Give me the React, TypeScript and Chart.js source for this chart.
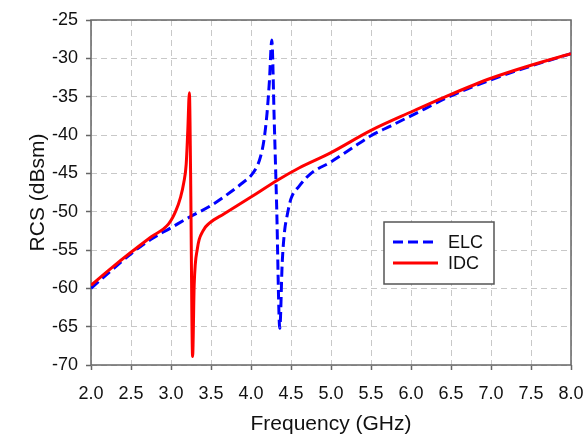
import { useEffect, useRef } from "react";
import { Chart, registerables } from "chart.js";

Chart.register(...registerables);

// ELC (blue dashed)
const elcFreq = [
  2.0, 2.25, 2.5, 2.75, 3.0, 3.25, 3.5, 3.75, 3.9, 4.0, 4.08, 4.12, 4.16, 4.2, 4.23, 4.26,
  4.29, 4.32, 4.36, 4.39, 4.42, 4.45, 4.5, 4.6, 4.74, 5.0, 5.25, 5.5, 5.75, 6.0, 6.5, 7.0, 7.5, 8.0,
];
const elcRcs = [
  -60.0, -57.7, -55.5, -53.6, -52.1, -50.6, -49.2, -47.4, -46.2, -45.3, -44.0, -42.8, -40.8, -37.2, -33.0, -27.6,
  -38.0, -49.0, -65.2, -56.7, -52.5, -50.6, -48.3, -46.7, -45.1, -43.5, -41.8, -40.1, -38.8, -37.5, -34.9, -32.8, -31.0, -29.4,
];

// IDC (red solid)
const idcFreq = [
  2.0, 2.25, 2.5, 2.75, 2.97, 3.06, 3.12, 3.16, 3.19, 3.21, 3.23, 3.245, 3.27, 3.29, 3.33, 3.4,
  3.48, 3.66, 4.0, 4.33, 4.6, 5.0, 5.5, 6.0, 6.5, 7.0, 7.5, 8.0,
];
const idcRcs = [
  -59.6, -57.4, -55.3, -53.3, -51.6, -49.9, -48.1, -46.2, -43.8, -39.4, -34.5, -45.0, -68.9, -59.5, -54.8, -52.5,
  -51.5, -50.3, -48.1, -45.9, -44.3, -42.3, -39.4, -37.0, -34.7, -32.6, -30.9, -29.4,
];

const seriesLabels = ["ELC", "IDC"];
const xTitle = "Frequency (GHz)";
const yTitle = "RCS (dBsm)";
const xMin = 2.0;
const xMax = 8.0;
const xStep = 0.5;
const yMin = -70;
const yMax = -25;
const yStep = 5;

const toPoints = (xs: number[], ys: number[]) => xs.map((x, i) => ({ x, y: ys[i] }));

const frameAndLegend = {
  id: "frameAndLegend",
  beforeDatasetsDraw(chart: any) {
    const { ctx, chartArea } = chart;
    ctx.save();
    ctx.strokeStyle = "#666666";
    ctx.lineWidth = 1.5;
    ctx.setLineDash([]);
    ctx.strokeRect(chartArea.left, chartArea.top, chartArea.right - chartArea.left, chartArea.bottom - chartArea.top);
    ctx.restore();
  },
  afterDraw(chart: any) {
    const { ctx, chartArea } = chart;
    const x0 = chartArea.right - 187;
    const y0 = chartArea.top + 202;
    const w = 110;
    const h = 62;
    ctx.save();
    ctx.fillStyle = "#ffffff";
    ctx.fillRect(x0, y0, w, h);
    ctx.strokeStyle = "#555555";
    ctx.lineWidth = 1.5;
    ctx.setLineDash([]);
    ctx.strokeRect(x0, y0, w, h);
    const order = [0, 1];
    order.forEach((di, i) => {
      const ds = chart.data.datasets[di];
      const y = y0 + 20 + i * 21;
      ctx.beginPath();
      ctx.setLineDash(ds.borderDash || []);
      ctx.strokeStyle = ds.borderColor;
      ctx.lineWidth = 3;
      ctx.moveTo(x0 + 9, y);
      ctx.lineTo(x0 + 54, y);
      ctx.stroke();
      ctx.setLineDash([]);
      ctx.fillStyle = "#111111";
      ctx.font = "18px 'Liberation Sans', Arial, sans-serif";
      ctx.textBaseline = "middle";
      ctx.textAlign = "left";
      ctx.fillText(ds.label, x0 + 64, y + 1);
    });
    ctx.restore();
  },
};

export default function App() {
  const canvasRef = useRef<HTMLCanvasElement | null>(null);

  useEffect(() => {
    document.body.style.margin = "0";
    const canvas = canvasRef.current;
    if (!canvas) return;
    const font = "'Liberation Sans', Arial, sans-serif";
    const chart = new Chart(canvas, {
      type: "line",
      data: {
        datasets: [
          {
            label: seriesLabels[0],
            data: toPoints(elcFreq, elcRcs),
            borderColor: "#0000ff",
            borderWidth: 3,
            borderDash: [10, 5],
            pointRadius: 0,
            fill: false,
            cubicInterpolationMode: "monotone",
            order: 1,
          },
          {
            label: seriesLabels[1],
            data: toPoints(idcFreq, idcRcs),
            borderColor: "#ff0000",
            borderWidth: 3,
            pointRadius: 0,
            fill: false,
            cubicInterpolationMode: "monotone",
            order: 0,
          },
        ],
      },
      options: {
        animation: false,
        responsive: false,
        devicePixelRatio: 1,
        layout: { padding: { left: 0, top: 20, right: 13, bottom: 0 } },
        plugins: {
          legend: { display: false },
          tooltip: { enabled: false },
        },
        scales: {
          x: {
            type: "linear",
            min: xMin,
            max: xMax,
            afterFit: (s: any) => {
              s.height = 72;
              s.paddingLeft = 0;
              s.paddingRight = 0;
            },
            ticks: {
              stepSize: xStep,
              color: "#111111",
              font: { family: font, size: 18 },
              padding: 13,
              maxRotation: 0,
              autoSkip: false,
              callback: (v: any) => Number(v).toFixed(1),
            },
            grid: {
              color: "#c8c8c8",
              lineWidth: 1,
              tickColor: "#666666",
              tickLength: 5,
              tickWidth: 1.5,
              tickBorderDash: [],
            },
            border: { display: false, dash: [6, 4] },
            title: {
              display: true,
              text: xTitle,
              color: "#111111",
              font: { family: font, size: 21 },
              padding: { top: 0, bottom: 0 },
            },
          },
          y: {
            type: "linear",
            min: yMin,
            max: yMax,
            afterFit: (s: any) => {
              s.width = 91;
              s.paddingTop = 0;
              s.paddingBottom = 0;
            },
            ticks: {
              stepSize: yStep,
              color: "#111111",
              font: { family: font, size: 18 },
              padding: 8,
            },
            grid: {
              color: "#c8c8c8",
              lineWidth: 1,
              tickColor: "#666666",
              tickLength: 5,
              tickWidth: 1.5,
              tickBorderDash: [],
            },
            border: { display: false, dash: [6, 4] },
            title: {
              display: true,
              text: yTitle,
              color: "#111111",
              font: { family: font, size: 21 },
              padding: { top: 26, bottom: 0 },
            },
          },
        },
      },
      plugins: [frameAndLegend],
    });
    return () => chart.destroy();
  }, []);

  return (
    <div style={{ width: 584, height: 437 }}>
      <canvas ref={canvasRef} width={584} height={437} style={{ display: "block" }} />
    </div>
  );
}
